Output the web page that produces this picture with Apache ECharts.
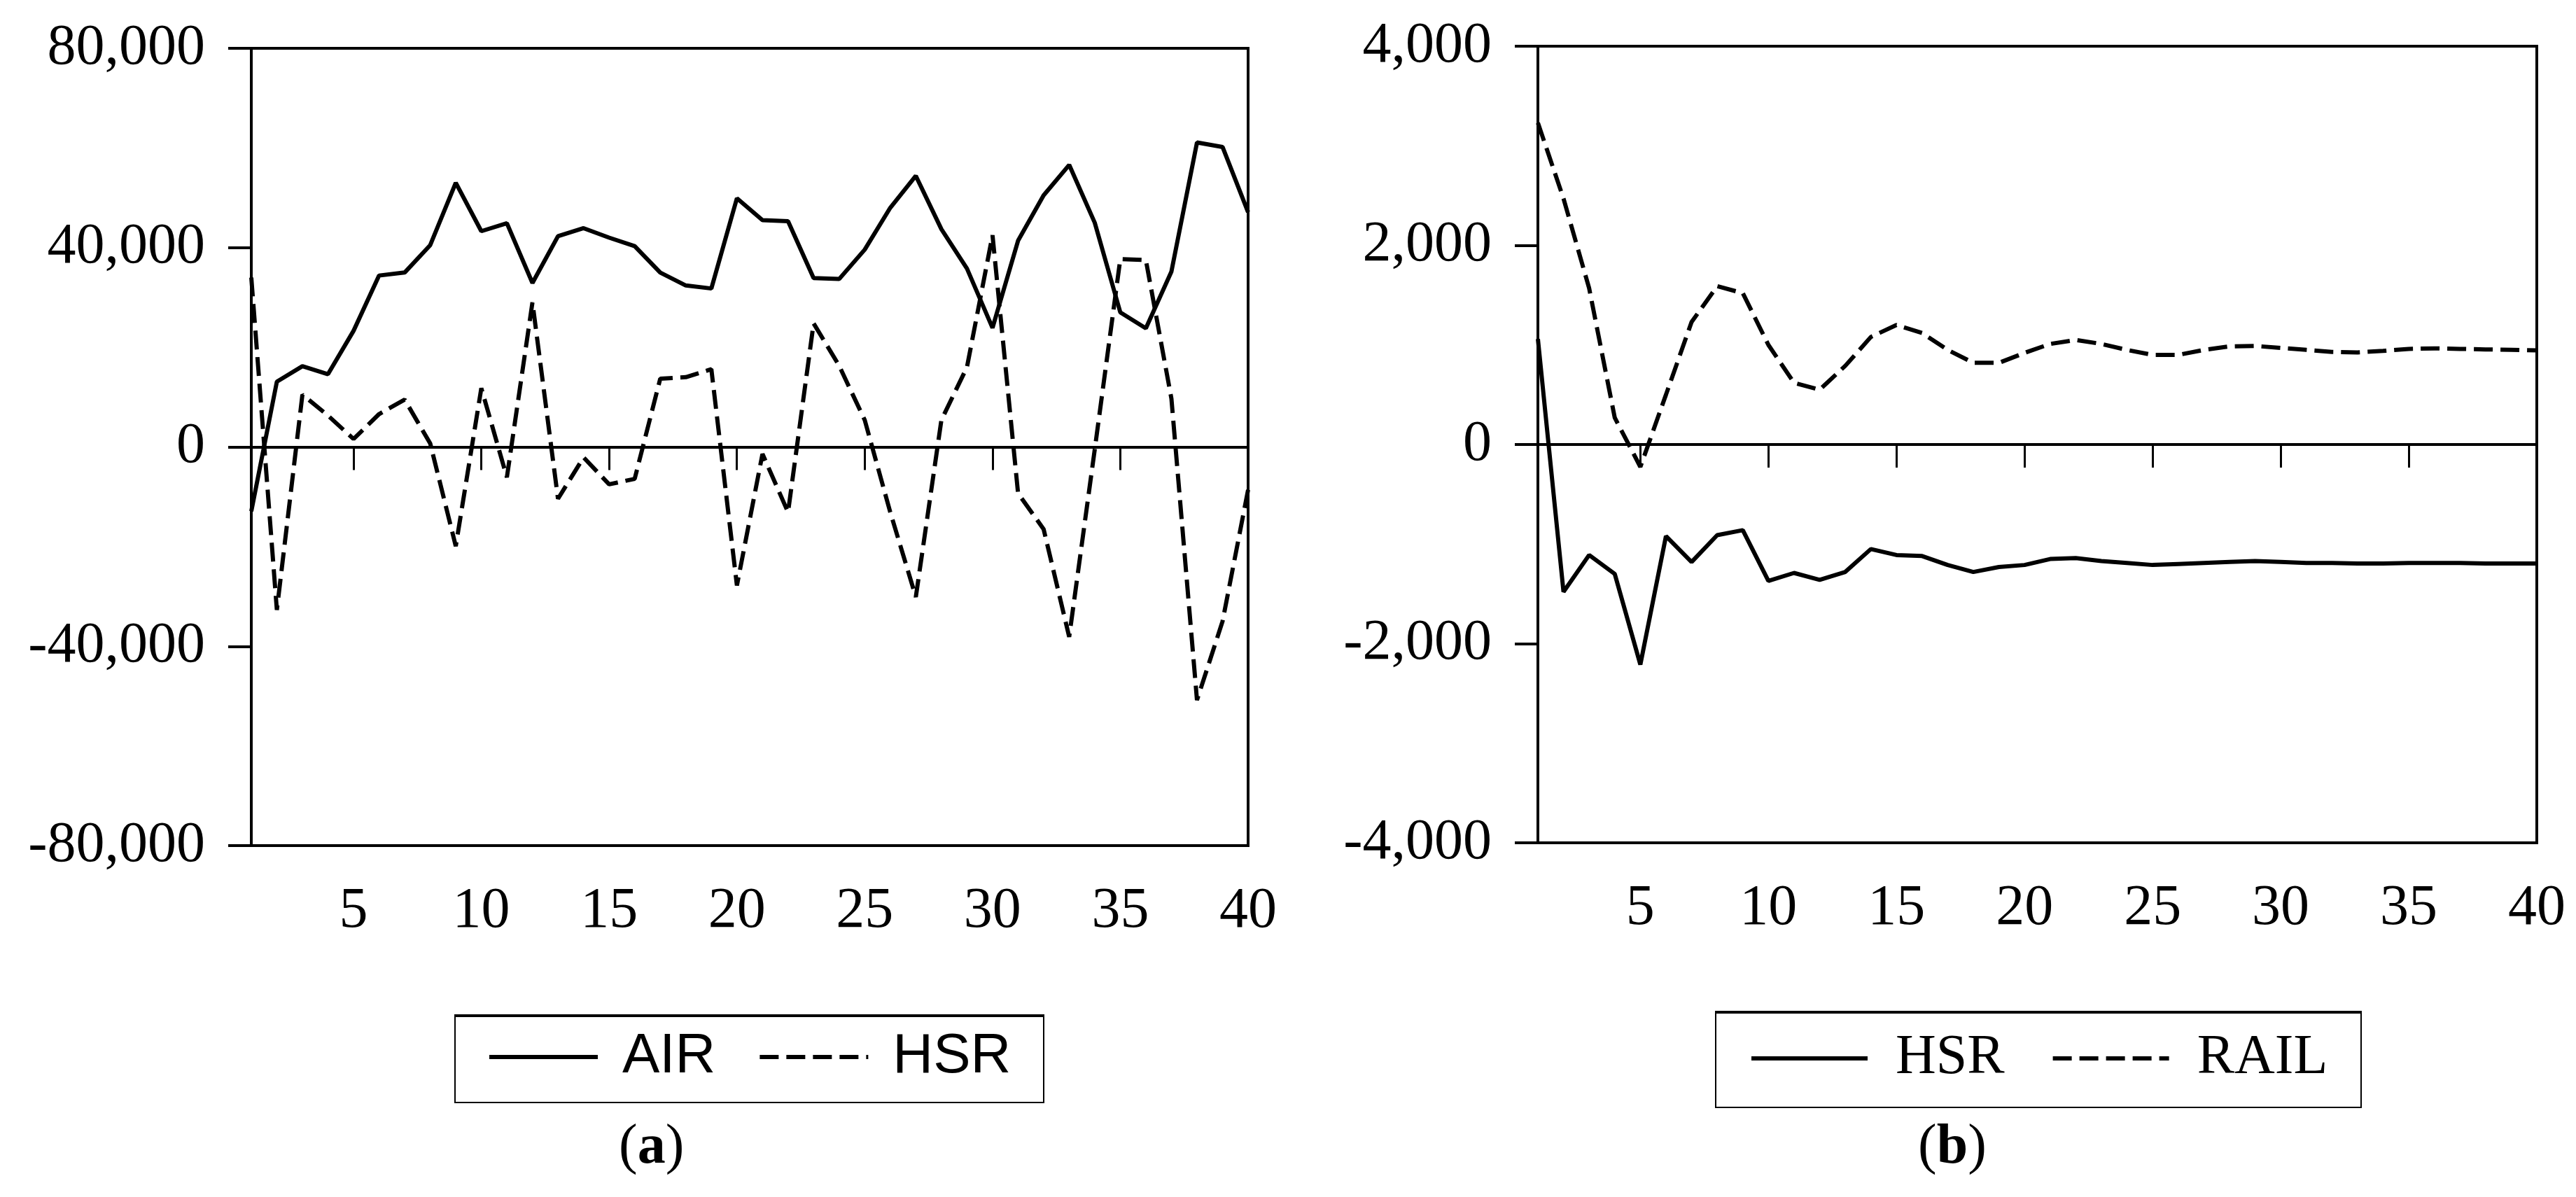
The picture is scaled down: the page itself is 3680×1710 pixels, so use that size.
<!DOCTYPE html>
<html>
<head>
<meta charset="utf-8">
<script src="https://cdn.jsdelivr.net/npm/echarts@6/dist/echarts.min.js"></script>
<style>
    body { margin: 0; background: #fff; }
    .panel { position: absolute; top: 0; width: 1840px; height: 1710px; }
</style>
</head>
<body>
<div id="chart-a" class="panel" style="left:0"></div>
<div id="chart-b" class="panel" style="left:1840px"></div>
<script>
const periods = ['1','2','3','4','5','6','7','8','9','10','11','12','13','14','15','16','17','18','19','20',
    '21','22','23','24','25','26','27','28','29','30','31','32','33','34','35','36','37','38','39','40']

// panel (a)
const airA = [-12900, 13100, 16200, 14600, 23300, 34400, 35000, 40500, 53000, 43300,
    44900, 32900, 42300, 43900, 42000, 40300, 35000, 32400, 31800, 49900,
    45500, 45300, 33900, 33700, 39600, 48000, 54400, 43700, 35800, 23900,
    41400, 50500, 56600, 45000, 27000, 23800, 35200, 61100, 60200, 47100]
const hsrA = [34000, -32700, 10500, 6300, 1600, 6600, 9500, 700, -19900, 11800,
    -6100, 29000, -10400, -2100, -7500, -6400, 13700, 14000, 15600, -27800,
    -1400, -13100, 24800, 16300, 5400, -13100, -30100, 5400, 16000, 42500,
    -9300, -16500, -38100, -500, 37700, 37500, 9700, -50800, -35000, -8600]
const yTicksA = [-80000, 80000, 40000]

// panel (b)
const hsrB = [1060, -1480, -1110, -1300, -2210, -920, -1180, -910, -860, -1370,
    -1290, -1360, -1280, -1050, -1110, -1120, -1210, -1280, -1230, -1210,
    -1150, -1140, -1170, -1190, -1210, -1200, -1190, -1180, -1170, -1180,
    -1190, -1190, -1195, -1195, -1190, -1190, -1190, -1195, -1195, -1195]
const railB = [3230, 2470, 1570, 270, -225, 500, 1230, 1590, 1520, 1000,
    620, 550, 790, 1080, 1200, 1120, 950, 820, 820, 920,
    1010, 1050, 1010, 950, 900, 900, 950, 985, 990, 970,
    950, 930, 925, 940, 960, 965, 960, 955, 950, 945]
const yTicksB = [-4000, 4000, 2000]

const serif = 'Liberation Serif'
const everyFifth = (idx, val) => Number(val) % 5 === 0
const dash = [27, 11]

function lineSeries(name, data, dashed, zeroWidth) {
    const s = {
        name: name,
        type: 'line',
        data: data,
        symbol: 'none',
        color: '#000',
        lineStyle: { color: '#000', width: 6, type: dashed ? dash : 'solid' },
        z: 3,
    }
    if (zeroWidth) {
        s.markLine = {
            silent: true,
            symbol: 'none',
            label: { show: false },
            lineStyle: { color: '#000', width: zeroWidth, type: 'solid' },
            data: [{ yAxis: 0 }],
        }
    }
    return s
}

function buildOption(cfg) {
    return {
        backgroundColor: '#fff',
        animation: false,
        grid: {
            left: cfg.grid[0], top: cfg.grid[1], width: cfg.grid[2], height: cfg.grid[3],
            show: true, borderColor: '#000', borderWidth: 4, backgroundColor: 'transparent',
        },
        xAxis: {
            type: 'category',
            data: periods,
            boundaryGap: false,
            axisLine: { show: true, lineStyle: { color: '#000', width: 4 } },
            axisTick: { show: true, length: 33, interval: everyFifth, lineStyle: { color: '#000', width: 3 } },
            axisLabel: { interval: everyFifth, margin: 53, fontFamily: serif, fontSize: 82, color: '#000' },
            splitLine: { show: false },
        },
        yAxis: {
            type: 'value',
            min: cfg.yTicks[0],
            max: cfg.yTicks[1],
            interval: cfg.yTicks[2],
            axisLine: { show: true, lineStyle: { color: '#000', width: 4 } },
            axisTick: { show: true, length: 33, lineStyle: { color: '#000', width: 4 } },
            axisLabel: {
                margin: 66, fontFamily: serif, fontSize: 82, color: '#000',
                formatter: v => v.toLocaleString('en-US'),
            },
            splitLine: { show: false },
        },
        legend: {
            left: cfg.legendLeft, top: cfg.legendTop, padding: 0,
            itemWidth: cfg.itemWidth, itemHeight: 20, itemGap: cfg.itemGap,
            selectedMode: false,
            itemStyle: { opacity: 0 },
            lineStyle: { width: 6, color: '#000' },
            textStyle: { fontFamily: cfg.legendFont, fontSize: 80, color: '#000', padding: [0, 0, 0, cfg.textGap] },
            data: cfg.names,
        },
        title: {
            text: '{n|(}{b|' + cfg.tag + '}{n|)}',
            left: cfg.tagLeft, top: 1600, padding: 0,
            textStyle: {
                fontWeight: 'normal',
                rich: {
                    n: { fontFamily: serif, fontSize: 80, fontWeight: 'normal', color: '#000' },
                    b: { fontFamily: serif, fontSize: 80, fontWeight: 'bold', color: '#000' },
                },
            },
        },
        graphic: [
            {
                type: 'rect',
                shape: { x: cfg.box[0], y: cfg.box[1], width: cfg.box[2], height: cfg.box[3] },
                style: { fill: 'none', stroke: '#000', lineWidth: 2 },
            },
            {
                type: 'line',
                shape: { x1: cfg.box[0], y1: cfg.box[1] + 1, x2: cfg.box[0] + cfg.box[2], y2: cfg.box[1] + 1 },
                style: { stroke: '#000', lineWidth: 4 },
            },
        ],
        series: cfg.series,
    }
}

const chartA = echarts.init(document.getElementById('chart-a'))
chartA.setOption(buildOption({
    grid: [359, 69, 1424, 1139],
    yTicks: yTicksA,
    names: ['AIR', 'HSR'],
    legendFont: 'Liberation Sans',
    legendLeft: 696, legendTop: 1470, itemWidth: 155, itemGap: 60, textGap: 30,
    box: [650, 1450, 841, 125],
    tag: 'a', tagLeft: 884,
    series: [lineSeries('AIR', airA, false, 2), lineSeries('HSR', hsrA, true, 0)],
}))

const chartB = echarts.init(document.getElementById('chart-b'))
chartB.setOption(buildOption({
    grid: [357, 66, 1427, 1138],
    yTicks: yTicksB,
    names: ['HSR', 'RAIL'],
    legendFont: serif,
    legendLeft: 659, legendTop: 1472, itemWidth: 166, itemGap: 66, textGap: 35,
    box: [611, 1445, 922, 137],
    tag: 'b', tagLeft: 900,
    series: [lineSeries('HSR', hsrB, false, 1), lineSeries('RAIL', railB, true, 0)],
}))
</script>
</body>
</html>
